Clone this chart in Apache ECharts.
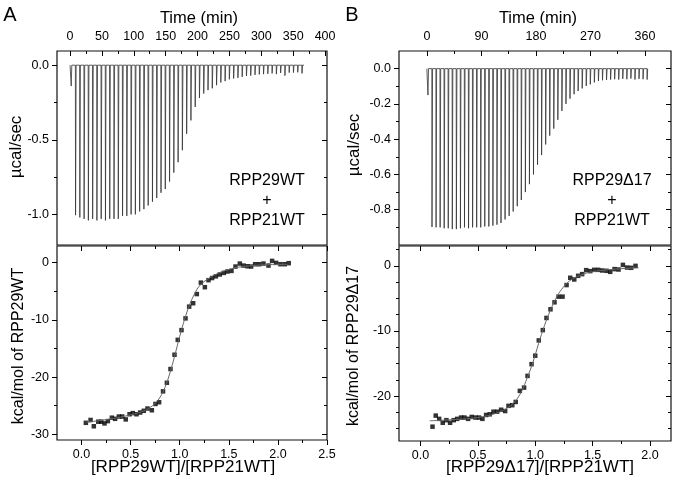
<!DOCTYPE html>
<html>
<head>
<meta charset="utf-8">
<title>ITC RPP29 / RPP21</title>
<script src="https://cdn.jsdelivr.net/npm/echarts@6/dist/echarts.min.js"></script>
</head>
<body style="margin:0">
<div id="chart" style="width:676px;height:486px;"></div>
<script>
// ---- panel A, raw thermogram (injection time in min, peak in ucal/sec)
var injTimeA = [1.6, 8.4, 15.1, 21.8, 28.5, 35.2, 41.9, 48.6, 55.3, 62.0, 68.7, 75.4, 82.1, 88.8,
    95.5, 102.2, 108.9, 115.6, 122.3, 129.0, 135.7, 142.4, 149.1, 155.8, 162.5, 169.2, 175.9,
    182.6, 189.3, 196.0, 202.7, 209.4, 216.1, 222.8, 229.5, 236.2, 242.9, 249.6, 256.3, 263.0,
    269.7, 276.4, 283.1, 289.8, 296.5, 303.2, 309.9, 316.6, 323.3, 330.0, 336.7, 343.4, 350.1,
    356.8, 363.5];
var peakA = [-0.14, -1.005, -1.02, -1.03, -1.04, -1.03, -1.04, -1.03, -1.04, -1.03, -1.03, -1.03,
    -1.01, -1.01, -1.0, -1.0, -0.98, -0.965, -0.94, -0.915, -0.89, -0.855, -0.83, -0.78, -0.72,
    -0.65, -0.57, -0.46, -0.37, -0.28, -0.22, -0.19, -0.167, -0.155, -0.134, -0.116, -0.107,
    -0.095, -0.089, -0.085, -0.078, -0.072, -0.07, -0.065, -0.062, -0.06, -0.058, -0.055, -0.06,
    -0.052, -0.07, -0.05, -0.05, -0.048, -0.055];

// ---- panel A, integrated heats
var ratioA = [0.044, 0.092, 0.125, 0.17, 0.20, 0.234, 0.268, 0.309, 0.342, 0.38, 0.414, 0.45,
    0.489, 0.522, 0.56, 0.597, 0.634, 0.672, 0.716, 0.753, 0.79, 0.83, 0.869, 0.906, 0.947, 0.98,
    1.018, 1.059, 1.096, 1.137, 1.174, 1.215, 1.256, 1.293, 1.33, 1.368, 1.408, 1.449, 1.486,
    1.527, 1.568, 1.612, 1.65, 1.69, 1.727, 1.768, 1.809, 1.853, 1.904, 1.941, 1.982, 2.026,
    2.07, 2.11];
var heatA = [-28.0, -27.5, -28.6, -27.8, -27.8, -28.1, -27.7, -27.1, -27.3, -26.9, -26.9, -27.4,
    -26.5, -26.3, -26.5, -26.2, -25.9, -25.5, -25.8, -24.7, -24.4, -22.5, -21.0, -18.6, -16.1,
    -13.5, -11.8, -9.75, -7.7, -7.1, -5.5, -3.5, -4.3, -3.07, -2.7, -2.4, -2.08, -1.8, -1.56,
    -1.45, -0.69, -0.17, -0.52, -0.64, -0.69, -0.29, -0.29, -0.17, -0.52, 0.3, -0.05, -0.28,
    -0.28, -0.1];
var fitRatioA = [0.05, 0.3, 0.5, 0.65, 0.75, 0.8, 0.85, 0.9, 0.95, 1.0, 1.05, 1.1, 1.15, 1.2,
    1.3, 1.4, 1.5, 1.6, 1.8, 2.1];
var fitHeatA = [-27.9, -27.3, -26.6, -25.8, -24.6, -23.5, -21.8, -19.3, -16.2, -12.9, -9.9, -7.4,
    -5.5, -4.1, -2.7, -1.8, -1.2, -0.8, -0.45, -0.3];

// ---- panel B, raw thermogram
var injTimeB = [1.5, 8.2, 14.9, 21.6, 28.3, 35.0, 41.7, 48.4, 55.1, 61.8, 68.5, 75.2, 81.9, 88.6,
    95.3, 102.0, 108.7, 115.4, 122.1, 128.8, 135.5, 142.2, 148.9, 155.6, 162.3, 169.0, 175.7,
    182.4, 189.1, 195.8, 202.5, 209.2, 215.9, 222.6, 229.3, 236.0, 242.7, 249.4, 256.1, 262.8,
    269.5, 276.2, 282.9, 289.6, 296.3, 303.0, 309.7, 316.4, 323.1, 329.8, 336.5, 343.2, 349.9,
    356.6, 363.3];
var peakB = [-0.15, -0.898, -0.90, -0.90, -0.905, -0.905, -0.91, -0.91, -0.905, -0.90, -0.905,
    -0.90, -0.90, -0.90, -0.895, -0.895, -0.89, -0.885, -0.875, -0.855, -0.835, -0.81, -0.78,
    -0.745, -0.70, -0.655, -0.60, -0.545, -0.49, -0.43, -0.38, -0.34, -0.29, -0.24, -0.20, -0.17,
    -0.145, -0.127, -0.112, -0.098, -0.089, -0.078, -0.07, -0.066, -0.064, -0.062, -0.06, -0.062,
    -0.058, -0.06, -0.056, -0.062, -0.058, -0.06, -0.062];

// ---- panel B, integrated heats
var ratioB = [0.105, 0.133, 0.163, 0.194, 0.226, 0.258, 0.29, 0.32, 0.354, 0.383, 0.415, 0.447,
    0.48, 0.51, 0.54, 0.572, 0.604, 0.636, 0.668, 0.703, 0.738, 0.767, 0.8, 0.83, 0.866, 0.903,
    0.933, 0.968, 1.0, 1.031, 1.066, 1.098, 1.133, 1.168, 1.203, 1.238, 1.273, 1.305, 1.34,
    1.374, 1.409, 1.444, 1.479, 1.514, 1.548, 1.583, 1.621, 1.653, 1.691, 1.726, 1.764, 1.8,
    1.836, 1.874];
var heatB = [-24.7, -23.0, -23.5, -24.1, -23.7, -24.1, -23.7, -23.5, -23.3, -23.3, -23.5, -23.2,
    -23.3, -23.3, -23.5, -22.9, -22.8, -22.4, -22.4, -22.1, -22.3, -21.5, -21.4, -20.9, -19.2,
    -18.7, -16.9, -15.1, -13.8, -11.45, -9.87, -8.0, -6.67, -5.6, -4.73, -4.73, -2.95, -1.83,
    -2.09, -1.53, -1.27, -0.66, -0.81, -0.61, -0.61, -0.71, -0.76, -0.92, -0.5, -0.56, 0.15,
    -0.26, -0.3, 0.0];
var fitRatioB = [0.08, 0.3, 0.5, 0.65, 0.75, 0.82, 0.88, 0.93, 0.98, 1.03, 1.08, 1.13, 1.18, 1.23,
    1.3, 1.4, 1.5, 1.7, 1.9];
var fitHeatB = [-23.8, -23.6, -23.3, -22.7, -21.9, -20.9, -19.3, -17.2, -14.8, -11.9, -9.2, -6.9,
    -5.0, -3.6, -2.3, -1.4, -0.9, -0.5, -0.3];

// ---- tick values
var timeTicksA = [0, 50, 100, 150, 200, 250, 300, 350, 400];
var timeMinorA = [25, 75, 125, 175, 225, 275, 325, 375];
var powTicksA = [0, -0.5, -1.0];
var powMinorA = [-0.25, -0.75];
var ratioTicksA = [0, 0.5, 1.0, 1.5, 2.0, 2.5];
var ratioMinorA = [0.25, 0.75, 1.25, 1.75, 2.25];
var heatTicksA = [0, -10, -20, -30];
var heatMinorA = [-5, -15, -25];

var timeTicksB = [0, 90, 180, 270, 360];
var timeMinorB = [45, 135, 225, 315];
var powTicksB = [0, -0.2, -0.4, -0.6, -0.8];
var powMinorB = [-0.1, -0.3, -0.5, -0.7, -0.9];
var ratioTicksB = [0, 0.5, 1.0, 1.5, 2.0];
var ratioMinorB = [0.25, 0.75, 1.25, 1.75];
var heatTicksB = [0, -10, -20];
var heatMinorB = [2.5, -2.5, -5, -7.5, -12.5, -15, -17.5, -22.5, -25];

var font = '"Liberation Sans", Arial, sans-serif';
var chart = echarts.init(document.getElementById('chart'));

var xAxes = [], yAxes = [];
// one axis with major ticks (and labels), one with minor ticks, same range
function tickAxes(list, grid, min, max, position, major, minor, inside, fmt) {
    var base = {type: 'value', gridIndex: grid, min: min, max: max, position: position,
        axisLine: {show: false, onZero: false}, splitLine: {show: false}};
    list.push(Object.assign({}, base, {
        axisTick: {show: true, inside: inside, length: 5, customValues: major, lineStyle: {color: '#000'}},
        axisLabel: {show: !!fmt, customValues: major, formatter: fmt, color: '#000',
            fontSize: 12.5, fontFamily: font, margin: 8}
    }));
    var idx = list.length - 1;
    list.push(Object.assign({}, base, {
        axisTick: {show: true, inside: inside, length: 3, customValues: minor, lineStyle: {color: '#000'}},
        axisLabel: {show: false}
    }));
    return idx;
}
function f1(v) { return v.toFixed(1); }
function f0(v) { return String(Math.round(v)); }

// A top
var xA1 = tickAxes(xAxes, 0, -20.4, 403, 'top', timeTicksA, timeMinorA, true, f0);
var yA1 = tickAxes(yAxes, 0, -1.205, 0.095, 'left', powTicksA, powMinorA, false, f1);
tickAxes(yAxes, 0, -1.205, 0.095, 'right', powTicksA, powMinorA, true, null);
// A bottom
var xA2 = tickAxes(xAxes, 1, -0.25, 2.5, 'bottom', ratioTicksA, ratioMinorA, false, f1);
tickAxes(xAxes, 1, -0.25, 2.5, 'top', ratioTicksA, ratioMinorA, true, null);
var yA2 = tickAxes(yAxes, 1, -31, 2.9, 'left', heatTicksA, heatMinorA, false, f0);
tickAxes(yAxes, 1, -31, 2.9, 'right', heatTicksA, heatMinorA, true, null);
// B top
var xB1 = tickAxes(xAxes, 2, -46, 403, 'top', timeTicksB, timeMinorB, true, f0);
var yB1 = tickAxes(yAxes, 2, -1.0, 0.1, 'left', powTicksB, powMinorB, false, f1);
tickAxes(yAxes, 2, -1.0, 0.1, 'right', powTicksB, powMinorB, true, null);
// B bottom
var xB2 = tickAxes(xAxes, 3, -0.187, 2.183, 'bottom', ratioTicksB, ratioMinorB, false, f1);
tickAxes(xAxes, 3, -0.187, 2.183, 'top', ratioTicksB, ratioMinorB, true, null);
var yB2 = tickAxes(yAxes, 3, -26.9, 3.05, 'left', heatTicksB, heatMinorB, false, f0);
tickAxes(yAxes, 3, -26.9, 3.05, 'right', heatTicksB, heatMinorB, true, null);

// spikes on a flat baseline
function thermogram(times, peaks, tEnd) {
    var d = [[times[0] - 1.5, 0]];
    for (var i = 0; i < times.length; i++) {
        d.push([times[i], 0], [times[i] + 0.3, peaks[i]], [times[i] + 1.2, 0]);
    }
    d.push([tEnd, 0]);
    return d;
}
function pairs(xs, ys) {
    return xs.map(function (x, i) { return [x, ys[i]]; });
}

function rawSeries(xi, yi, data) {
    return {type: 'line', xAxisIndex: xi, yAxisIndex: yi, data: data, showSymbol: false,
        lineStyle: {color: '#333', width: 0.8}, silent: true};
}
function fitSeries(xi, yi, data) {
    return {type: 'line', xAxisIndex: xi, yAxisIndex: yi, data: data, showSymbol: false, smooth: 0.4,
        lineStyle: {color: '#666', width: 1}, silent: true};
}
function dotSeries(xi, yi, data) {
    return {type: 'scatter', xAxisIndex: xi, yAxisIndex: yi, data: data, symbol: 'rect',
        symbolSize: 4.5, itemStyle: {color: '#000'}, silent: true};
}

function txt(x, y, s, size, rot) {
    return {type: 'text', x: x, y: y, rotation: rot || 0,
        style: {text: s, font: size + 'px ' + font, fill: '#000', textAlign: 'center',
            textVerticalAlign: 'middle', lineHeight: 20}};
}

var gridStyle = {show: true, borderColor: '#111', borderWidth: 1.2, backgroundColor: 'transparent'};

var option = {
    animation: false,
    grid: [
        Object.assign({left: 57, top: 51, width: 270, height: 194}, gridStyle),
        Object.assign({left: 57, top: 246, width: 270, height: 194}, gridStyle),
        Object.assign({left: 399, top: 51, width: 272, height: 194}, gridStyle),
        Object.assign({left: 399, top: 246, width: 272, height: 195}, gridStyle)
    ],
    xAxis: xAxes,
    yAxis: yAxes,
    series: [
        rawSeries(xA1, yA1, thermogram(injTimeA, peakA, 367)),
        fitSeries(xA2, yA2, pairs(fitRatioA, fitHeatA)),
        dotSeries(xA2, yA2, pairs(ratioA, heatA)),
        rawSeries(xB1, yB1, thermogram(injTimeB, peakB, 365)),
        fitSeries(xB2, yB2, pairs(fitRatioB, fitHeatB)),
        dotSeries(xB2, yB2, pairs(ratioB, heatB))
    ],
    graphic: [
        txt(10, 15, 'A', 20),
        txt(352, 15, 'B', 20),
        txt(199, 18, 'Time (min)', 16.5),
        txt(538, 18, 'Time (min)', 16.5),
        txt(16, 147, 'µcal/sec', 17, Math.PI / 2),
        txt(354, 145, 'µcal/sec', 17, Math.PI / 2),
        txt(19, 346, 'kcal/mol of RPP29WT', 16, Math.PI / 2),
        txt(354, 346, 'kcal/mol of RPP29Δ17', 16, Math.PI / 2),
        txt(183, 467, '[RPP29WT]/[RPP21WT]', 17),
        txt(540, 467, '[RPP29Δ17]/[RPP21WT]', 17),
        txt(267, 201, 'RPP29WT\n+\nRPP21WT', 16),
        txt(612, 201, 'RPP29Δ17\n+\nRPP21WT', 16)
    ]
};
chart.setOption(option);
</script>
</body>
</html>
